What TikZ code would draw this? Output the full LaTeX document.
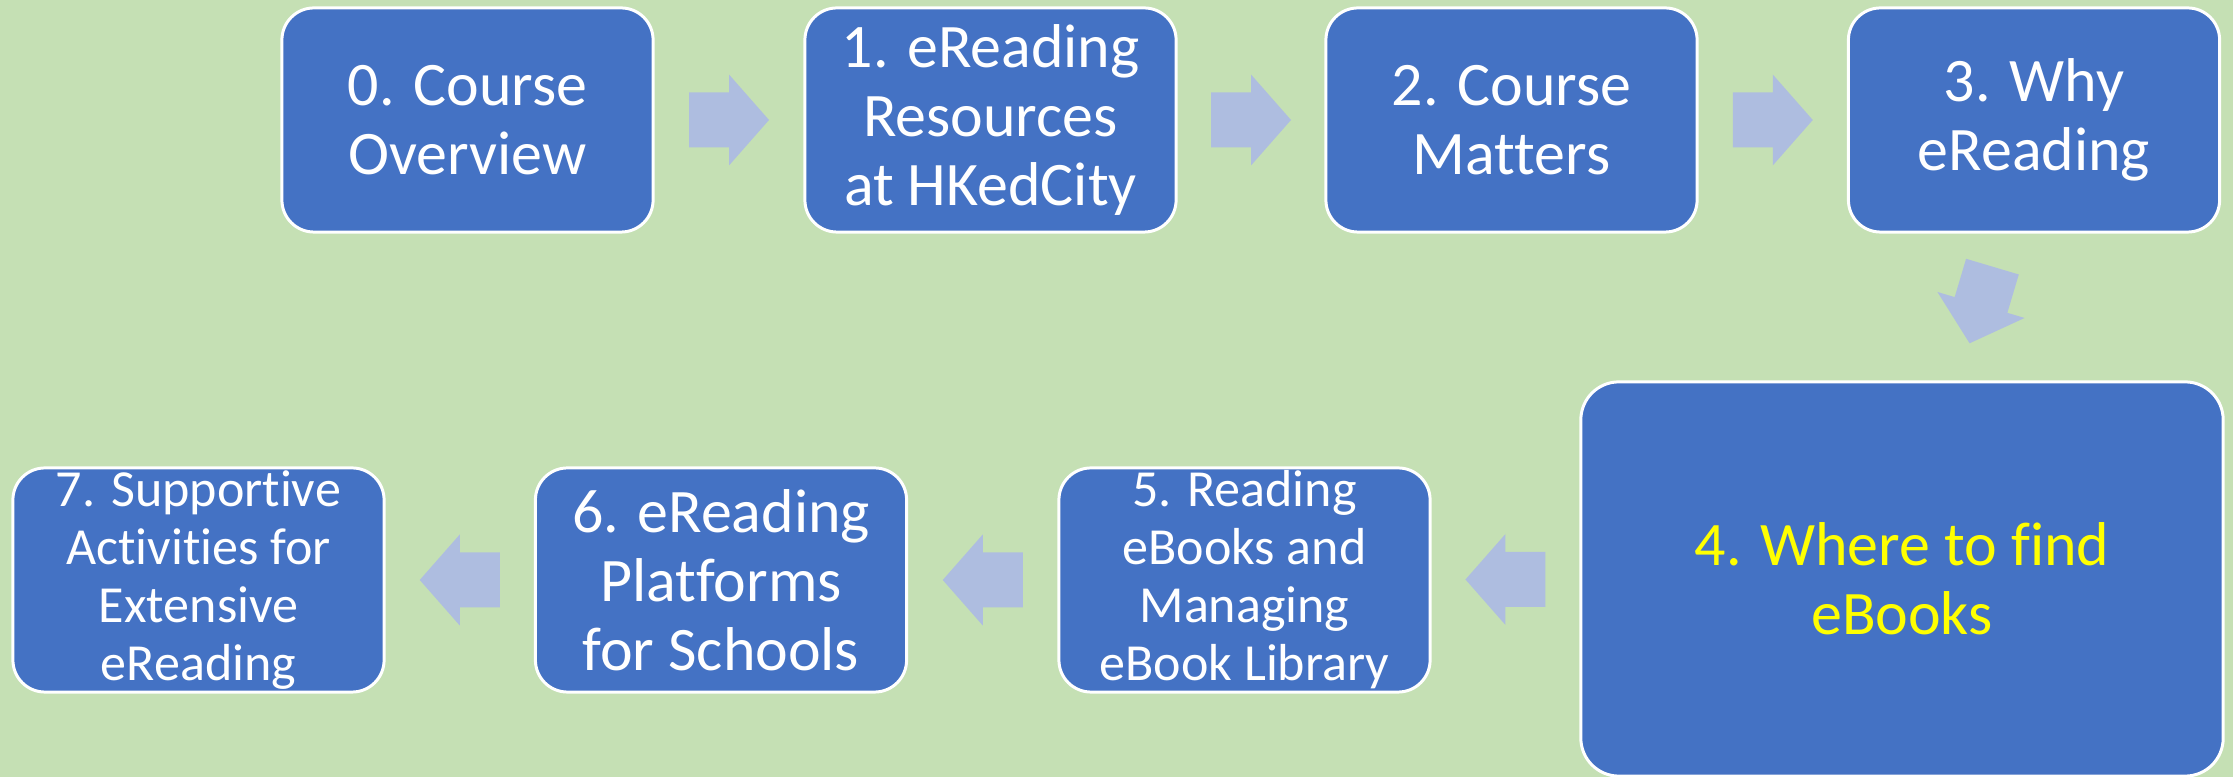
\documentclass[tikz,border=0pt]{standalone}
\usepackage{fontspec}
\setmainfont{Carlito}[Ligatures=NoCommon]
\usepackage{xcolor}
\usetikzlibrary{calc}
\definecolor{prato}{HTML}{C5E0B4}
\definecolor{blu}{HTML}{4472C4}
\definecolor{freccia}{HTML}{AEBDE0}
\definecolor{giallo}{HTML}{FFFF00}
\tikzset{
  stepbox/.style={draw=white, line width=0.85pt, fill=blu, rounded corners=0.32cm,
    text=white, align=center, inner sep=0pt,
    minimum width=3.71cm, minimum height=2.24cm,
    font=\fontsize{17.6pt}{19.6pt}\selectfont},
  smalltext/.style={font=\fontsize{14.8pt}{16.5pt}\selectfont},
  blockarrow/.pic={
    \fill[freccia] (-40,-27.5) -- (0,-27.5) -- (0,-45.5) -- (40,0)
      -- (0,45.5) -- (0,27.5) -- (-40,27.5) -- cycle;}
}
\begin{document}
\begin{tikzpicture}[x=0.01cm, y=-0.01cm]
        \fill[prato] (0,0) rectangle (2233,777);
        \useasboundingbox (0,0) rectangle (2233,777);
        % riga in alto
        \node[stepbox] (b0) at (467.5,120) {0. Course\\Overview};
        \node[stepbox] (b1) at (990.5,120) {1. eReading\\Resources\\at HKedCity};
        \node[stepbox] (b2) at (1511.5,120) {2. Course\\Matters};
        \node[stepbox] (b3) at (2034,120) {3. Why\\eReading};
        % box evidenziato
        \node[stepbox, minimum width=6.42cm, minimum height=3.94cm,
              rounded corners=0.38cm, text=giallo] (b4) at (1902,579) {4. Where to find\\eBooks};
        % riga in basso
        \node[stepbox, smalltext] (b5) at (1244.5,580) {5. Reading\\eBooks and\\Managing\\eBook Library};
        \node[stepbox] (b6) at (721,580) {6. eReading\\Platforms\\for Schools};
        \node[stepbox, smalltext] (b7) at (198.5,580) {7. Supportive\\Activities for\\Extensive\\eReading};
        % frecce
        \pic (a01) at ($(b0.east)!0.5!(b1.west)$) {blockarrow};
        \pic (a12) at ($(b1.east)!0.5!(b2.west)$) {blockarrow};
        \pic (a23) at ($(b2.east)!0.5!(b3.west)$) {blockarrow};
        \pic[rotate=-106.6] (a34) at ($(b3.south)!0.5!(b4.north)+(13,-2)$) {blockarrow};
        \pic[rotate=180] (a45) at ($(b4.west)!0.5!(b5.east)$) {blockarrow};
        \pic[rotate=180] (a56) at ($(b5.west)!0.5!(b6.east)$) {blockarrow};
        \pic[rotate=180] (a67) at ($(b6.west)!0.5!(b7.east)$) {blockarrow};
    \end{tikzpicture}
\end{document}
